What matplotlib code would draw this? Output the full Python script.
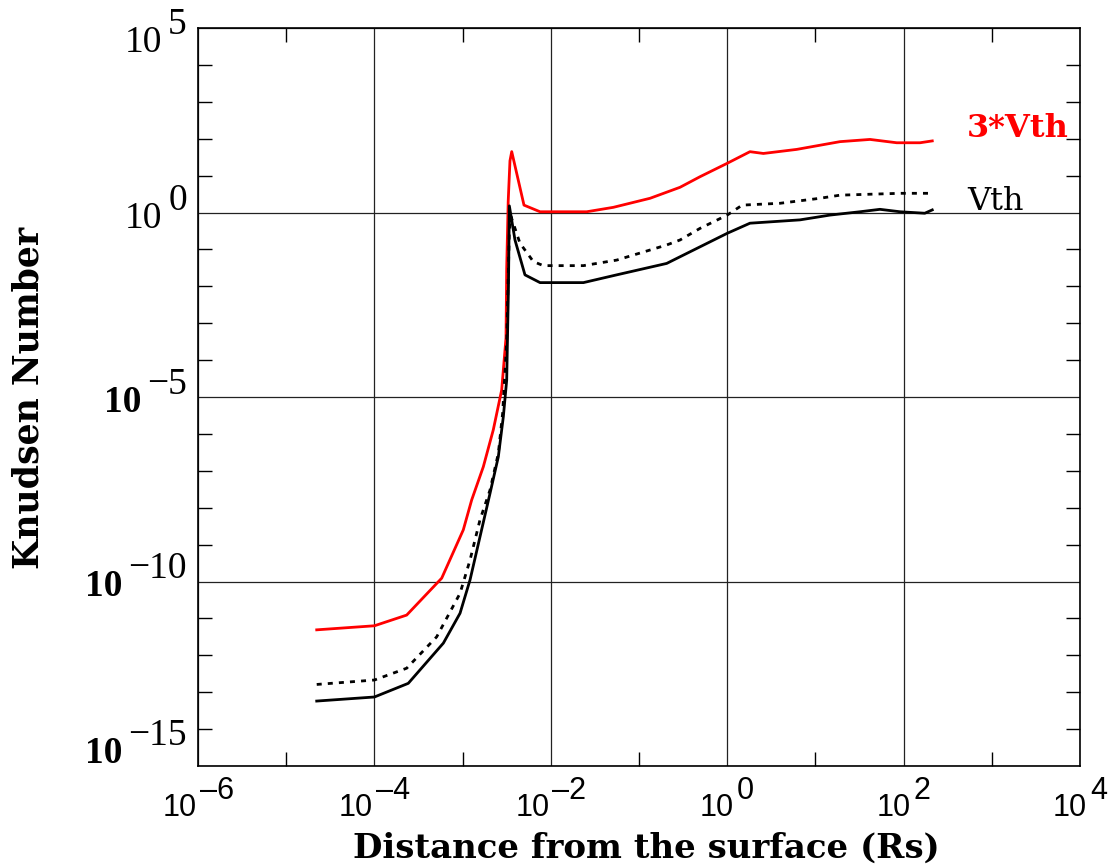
import matplotlib
matplotlib.use("Agg")
import matplotlib.pyplot as plt
from matplotlib.ticker import NullFormatter
import numpy as np

# log10 of distance (Rs) and log10 of Knudsen number for each curve
log_x_3vth = [-4.654, -4.0, -3.634, -3.237, -2.992, -2.897, -2.765, -2.652, -2.557,
              -2.508, -2.50, -2.483, -2.463, -2.443, -2.304, -2.122, -1.593, -1.291,
              -0.875, -0.535, -0.308, 0.0, 0.258, 0.41, 0.788, 1.279, 1.619, 1.922,
              2.186, 2.325]
log_kn_3vth = [-11.31, -11.2, -10.91, -9.91, -8.60, -7.79, -6.89, -5.89, -4.81,
               -3.4, -1.5, 0.3, 1.4, 1.65, 0.2, 0.02, 0.02, 0.14,
               0.385, 0.683, 0.97, 1.333, 1.648, 1.60, 1.71, 1.92, 1.98, 1.89,
               1.89, 1.94]

log_x_vth = [-4.654, -4.0, -3.616, -3.218, -3.029, -2.916, -2.803, -2.689, -2.595,
             -2.538, -2.5, -2.48, -2.47, -2.406, -2.293, -2.122, -1.63, -1.253,
             -0.686, -0.535, -0.308, 0.0, 0.258, 0.825, 1.165, 1.505, 1.732, 1.96,
             2.24, 2.325]
log_kn_vth = [-13.24, -13.13, -12.76, -11.67, -10.86, -9.96, -8.79, -7.61, -6.62,
              -5.53, -4.54, -2.0, 0.18, -0.745, -1.69, -1.90, -1.90, -1.69,
              -1.38, -1.20, -0.93, -0.564, -0.29, -0.20, -0.07, 0.02, 0.086, 0.02,
              -0.02, 0.07]

log_x_mid = [-4.654, -4.0, -3.634, -3.294, -3.029, -2.916, -2.803, -2.689, -2.595,
             -2.546, -2.5, -2.47, -2.451, -2.35, -2.198, -2.085, -1.63, -1.253,
             -0.686, -0.535, -0.308, 0.0, 0.17, 0.6, 1.05, 1.28, 1.96, 2.325]
log_kn_mid = [-12.79, -12.67, -12.35, -11.50, -10.32, -9.42, -8.33, -7.52, -6.53,
              -5.44, -3.5, -0.5, -0.11, -0.83, -1.33, -1.44, -1.44, -1.29,
              -0.88, -0.745, -0.43, -0.07, 0.20, 0.25, 0.385, 0.47, 0.52, 0.52]

x_major_exp = [-6, -4, -2, 0, 2, 4]
x_minor_exp = [-5, -3, -1, 1, 3]
y_major_exp = [5, 0, -5, -10, -15]
y_minor_exp = [e for e in range(-15, 6) if e % 5 != 0]

fig = plt.figure(figsize=(11.19, 8.67), dpi=100)
ax = fig.add_axes([198 / 1119, 1 - 766 / 867, 882 / 1119, 738 / 867])

ax.plot(10.0 ** np.array(log_x_3vth), 10.0 ** np.array(log_kn_3vth), color="#ff0000", lw=2)
ax.plot(10.0 ** np.array(log_x_mid), 10.0 ** np.array(log_kn_mid), color="black", lw=2,
        ls=(0, (1.8, 2.2)))
ax.plot(10.0 ** np.array(log_x_vth), 10.0 ** np.array(log_kn_vth), color="black", lw=2)

ax.set_xscale("log")
ax.set_yscale("log")
ax.set_xlim(1e-6, 1e4)
ax.set_ylim(1e-15, 1e5)

ax.set_xticks([10.0 ** e for e in x_major_exp])
ax.set_xticks([10.0 ** e for e in x_minor_exp], minor=True)
ax.set_yticks([10.0 ** e for e in y_major_exp])
ax.set_yticks([10.0 ** e for e in y_minor_exp], minor=True)
for axis in (ax.xaxis, ax.yaxis):
    axis.set_major_formatter(NullFormatter())
    axis.set_minor_formatter(NullFormatter())
ax.tick_params(which="major", length=0)
ax.tick_params(which="minor", direction="in", length=10, width=1.0,
               top=True, bottom=True, left=True, right=True)
ax.grid(which="major", color="#222222", lw=0.9)
for sp in ax.spines.values():
    sp.set_linewidth(1.2)

renderer = fig.canvas.get_renderer()


def width_of(t):
    return t.get_window_extent(renderer).width


# x tick labels: sans "10" with a full-size exponent, centred on the tick
for e in x_major_exp:
    exp_txt = str(e).replace("-", "\u2013")
    kw = dict(xy=(10.0 ** e, 0), xycoords=("data", "axes fraction"),
              textcoords="offset pixels", ha="left", va="baseline",
              family="Liberation Sans", fontsize=22, annotation_clip=False)
    tb = ax.annotate("10", xytext=(0, -50), **kw)
    te = ax.annotate(exp_txt, xytext=(0, -33), **kw)
    wb, we = width_of(tb), width_of(te)
    gap = 3
    start = -(wb + gap + we) / 2
    tb.xyann = (start, -50)
    te.xyann = (start + wb + gap, -33)

# y tick labels: serif, end labels pulled inside the axis range
y_shift = {5: -9, 0: 0, -5: 0, -10: 0, -15: 18}
for e in y_major_exp:
    exp_txt = str(e).replace("-", "\u2212")
    weight = "bold" if e < 0 else "normal"
    kw = dict(xy=(0, 10.0 ** e), xycoords=("axes fraction", "data"),
              textcoords="offset pixels", va="baseline",
              family="Liberation Serif", fontsize=27, annotation_clip=False)
    te = ax.annotate(exp_txt, xytext=(-11, 3 + y_shift[e]), ha="right", **kw)
    we = width_of(te)
    ax.annotate("10", xytext=(-11 - we - 6, -15 + y_shift[e]), ha="right",
                fontweight=weight, **kw)

ax.text(0.872, 0.852, "3*Vth", transform=ax.transAxes, color="#ff0000",
        family="DejaVu Serif", fontweight="bold", fontsize=23, va="baseline")
ax.text(0.872, 0.753, "Vth", transform=ax.transAxes, color="black",
        family="DejaVu Serif", fontsize=23, va="baseline")

fig.text(646 / 1119, 1 - 858 / 867, "Distance from the surface (Rs)",
         family="DejaVu Serif", fontweight="bold", fontsize=24.5,
         ha="center", va="baseline")
fig.text(29 / 1119, 1 - 398 / 867, "Knudsen Number", family="DejaVu Serif",
         fontweight="bold", fontsize=25, rotation=90, ha="center", va="center")

fig.savefig("out.png", dpi=100)
